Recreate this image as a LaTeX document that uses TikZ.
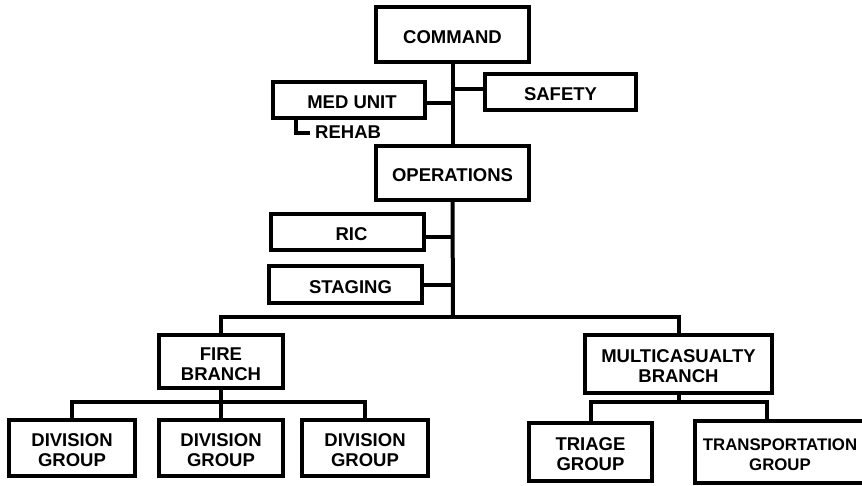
\documentclass[tikz,border=0pt]{standalone}
\usepackage{fontspec}
\setmainfont{Liberation Sans}
\begin{document}
\begin{tikzpicture}[x=1pt,y=-1pt,
  box/.style={draw, line width=4pt, inner sep=0pt},
  txt/.style={inner sep=0pt, align=center, yshift=-2.5pt,
    font=\fontsize{18.5}{20}\selectfont\bfseries},
  link/.style={line width=4pt, line join=miter},
  note/.style={inner sep=0pt, font=\fontsize{18.5}{20}\selectfont\bfseries},
]
\path[use as bounding box] (0,0) rectangle (862,485);
\clip (0,0) rectangle (862,485);

% command staff
\node[box, minimum width=153pt, minimum height=55pt,
  label={[txt]center:COMMAND}] (command) at (452.5,34.5) {};
\node[box, minimum width=151pt, minimum height=36pt,
  label={[txt]center:SAFETY}] (safety) at (560.5,92) {};
\node[box, minimum width=152pt, minimum height=36pt,
  label={[txt, xshift=3pt]center:MED UNIT}] (medunit) at (349,100) {};
\node[note, anchor=west] (rehab) at (315,132) {REHAB};

% operations and its units
\node[box, minimum width=153pt, minimum height=54pt,
  label={[txt]center:OPERATIONS}] (ops) at (452.5,173) {};
\node[box, minimum width=153pt, minimum height=36pt,
  label={[txt, xshift=4pt]center:RIC}] (ric) at (347.5,232) {};
\node[box, minimum width=153pt, minimum height=37pt,
  label={[txt, xshift=5pt]center:STAGING}] (staging) at (345.5,284.5) {};

% branches
\node[box, minimum width=124pt, minimum height=53pt,
  label={[txt]center:FIRE\\BRANCH}] (fire) at (221,361.5) {};
\node[box, minimum width=187pt, minimum height=58pt,
  label={[txt]center:MULTICASUALTY\\BRANCH}] (multi) at (678.5,364) {};

% groups
\node[box, minimum width=126pt, minimum height=56pt,
  label={[txt]center:DIVISION\\GROUP}] (div1) at (72,448) {};
\node[box, minimum width=124pt, minimum height=56pt,
  label={[txt]center:DIVISION\\GROUP}] (div2) at (221,448) {};
\node[box, minimum width=126pt, minimum height=56pt,
  label={[txt]center:DIVISION\\GROUP}] (div3) at (365,448) {};
\node[box, minimum width=123pt, minimum height=58pt,
  label={[txt]center:TRIAGE\\GROUP}] (triage) at (590.5,452) {};
% the transportation box runs past the right edge and is cut off there
\node[box, minimum width=190pt, minimum height=62pt] (transport) at (790,452) {};
\node[txt, font=\fontsize{16.8}{20}\selectfont\bfseries] (transporttext) at (780,452)
  {TRANSPORTATION\\GROUP};

% junction points
\coordinate (mainbar) at (453,317);
\coordinate (firebar) at (221,402);
\coordinate (multibar) at (678.5,402);
\coordinate (rehabtop) at (296,118);
\coordinate (transdrop) at (767,402);

% trunk and staff links
\draw[link] (command.south) -- (ops.north);
\draw[link] (ops.south) -- (mainbar);
\draw[link] ([yshift=-3pt]medunit.east) -- ([yshift=-3pt]medunit.east -| command.south);
\draw[link] ([yshift=3pt]safety.west) -- ([yshift=3pt]safety.west -| command.south);
\draw[link] (rehabtop) |- ([xshift=-5pt,yshift=-1pt]rehab.west);
\draw[link] ([yshift=-5pt]ric.east) -- ([yshift=-5pt]ric.east -| ops.south);
\draw[link] (staging.east) -- (staging.east -| ops.south);

% branch bar
\draw[link] (fire.north) |- (mainbar) -| (multi.north);

% fire branch groups
\draw[link] (fire.south) -- (div2.north);
\draw[link] (div1.north) |- (firebar) -| (div3.north);

% multicasualty branch groups
\draw[link] (multi.south) -- (multibar);
\draw[link] (triage.north) |- (multibar) -| (transdrop |- transport.north);
\end{tikzpicture}
\end{document}
